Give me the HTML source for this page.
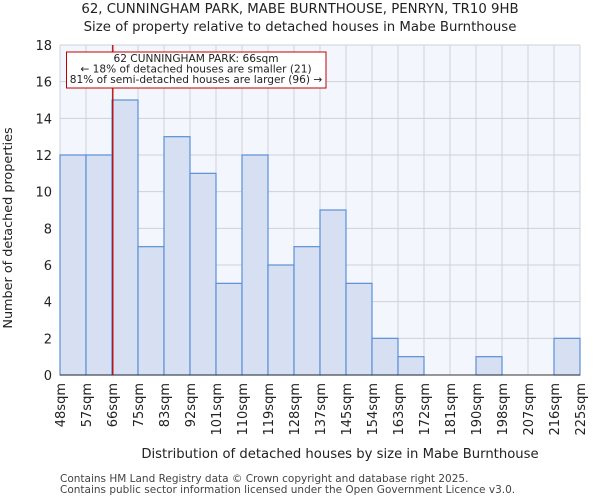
<!DOCTYPE html>
<html><head><meta charset="utf-8"><style>
body{margin:0;background:#fff;font-family:"DejaVu Sans","Liberation Sans",sans-serif}
</style></head><body>
<svg width="600" height="500" xmlns="http://www.w3.org/2000/svg" font-family="DejaVu Sans, Liberation Sans, sans-serif">
<text x="300" y="13" text-anchor="middle" font-size="13.3" fill="#222">62, CUNNINGHAM PARK, MABE BURNTHOUSE, PENRYN, TR10 9HB</text>
<text x="300" y="31" text-anchor="middle" font-size="13.3" fill="#222">Size of property relative to detached houses in Mabe Burnthouse</text>
<g id="plot"></g>
<text x="340" y="458" text-anchor="middle" font-size="13.2" fill="#222">Distribution of detached houses by size in Mabe Burnthouse</text>
<text transform="translate(12,228) rotate(-90)" text-anchor="middle" font-size="12.8" fill="#222">Number of detached properties</text>
<text x="60" y="482" font-size="10.5" fill="#444">Contains HM Land Registry data © Crown copyright and database right 2025.</text>
<text x="60" y="493" font-size="10.5" fill="#444">Contains public sector information licensed under the Open Government Licence v3.0.</text>
</svg>
<script>
const binLabels=["48sqm","57sqm","66sqm","75sqm","83sqm","92sqm","101sqm","110sqm","119sqm","128sqm","137sqm","145sqm","154sqm","163sqm","172sqm","181sqm","190sqm","198sqm","207sqm","216sqm","225sqm"];
const counts=[12,12,15,7,13,11,5,12,6,7,9,5,2,1,0,0,1,0,0,2];
const yTicks=[0,2,4,6,8,10,12,14,16,18];
const markerIndex=2;
const NS="http://www.w3.org/2000/svg";
const L=60,R=580,T=45,B=375,yMax=18;
const n=counts.length;
const xs=i=>L+(R-L)*i/n;
const ys=v=>B-(B-T)*v/yMax;
const g=document.getElementById('plot');
function mk(t,a,txt){const e=document.createElementNS(NS,t);for(const k in a)e.setAttribute(k,a[k]);if(txt!==undefined)e.textContent=txt;g.appendChild(e);return e;}
let bg=mk('rect',{x:L,y:T,width:R-L,height:B-T,fill:'#f3f6fc'});


yTicks.forEach(v=>{
 let l=mk('line',{x1:L,x2:R,y1:ys(v),y2:ys(v),stroke:'#cfd2d8','stroke-width':1});
 
 
 let t=mk('text',{x:L-8,y:ys(v)+5,'text-anchor':'end','font-size':13,fill:'#222'},String(v));
 
 
});
binLabels.forEach((s,i)=>{
 let l=mk('line',{x1:xs(i),x2:xs(i),y1:T,y2:B,stroke:'#cfd2d8','stroke-width':1});
 
 
 let x=xs(i);
 let t=mk('text',{transform:`translate(${x+5},${B+8}) rotate(-90)`,'text-anchor':'end','font-size':13,fill:'#222'},s);
 
 
});
counts.forEach((v,i)=>{
 if(v<=0)return;
 let r=mk('rect',{x:xs(i),y:ys(v),width:xs(i+1)-xs(i),height:B-ys(v),fill:'#d6e0f2',stroke:'#5b8fd6','stroke-width':1.2});
 
 
});
let ax=mk('line',{x1:L,x2:R,y1:B,y2:B,stroke:'#333','stroke-width':1});


let mx=xs(markerIndex)+0.8;
let ml=mk('line',{x1:mx,x2:mx,y1:T,y2:B,stroke:'#c00000','stroke-width':1.3});


let box=mk('rect',{x:66.5,y:52,width:259.5,height:36,fill:'#fff',stroke:'#c00000','stroke-width':1});


["62 CUNNINGHAM PARK: 66sqm","← 18% of detached houses are smaller (21)","81% of semi-detached houses are larger (96) →"].forEach((s,k)=>{
 let t=mk('text',{x:196,y:62+k*10.5,'text-anchor':'middle','font-size':10.6,fill:'#222'},s);
 
 
});
</script>
</body></html>
